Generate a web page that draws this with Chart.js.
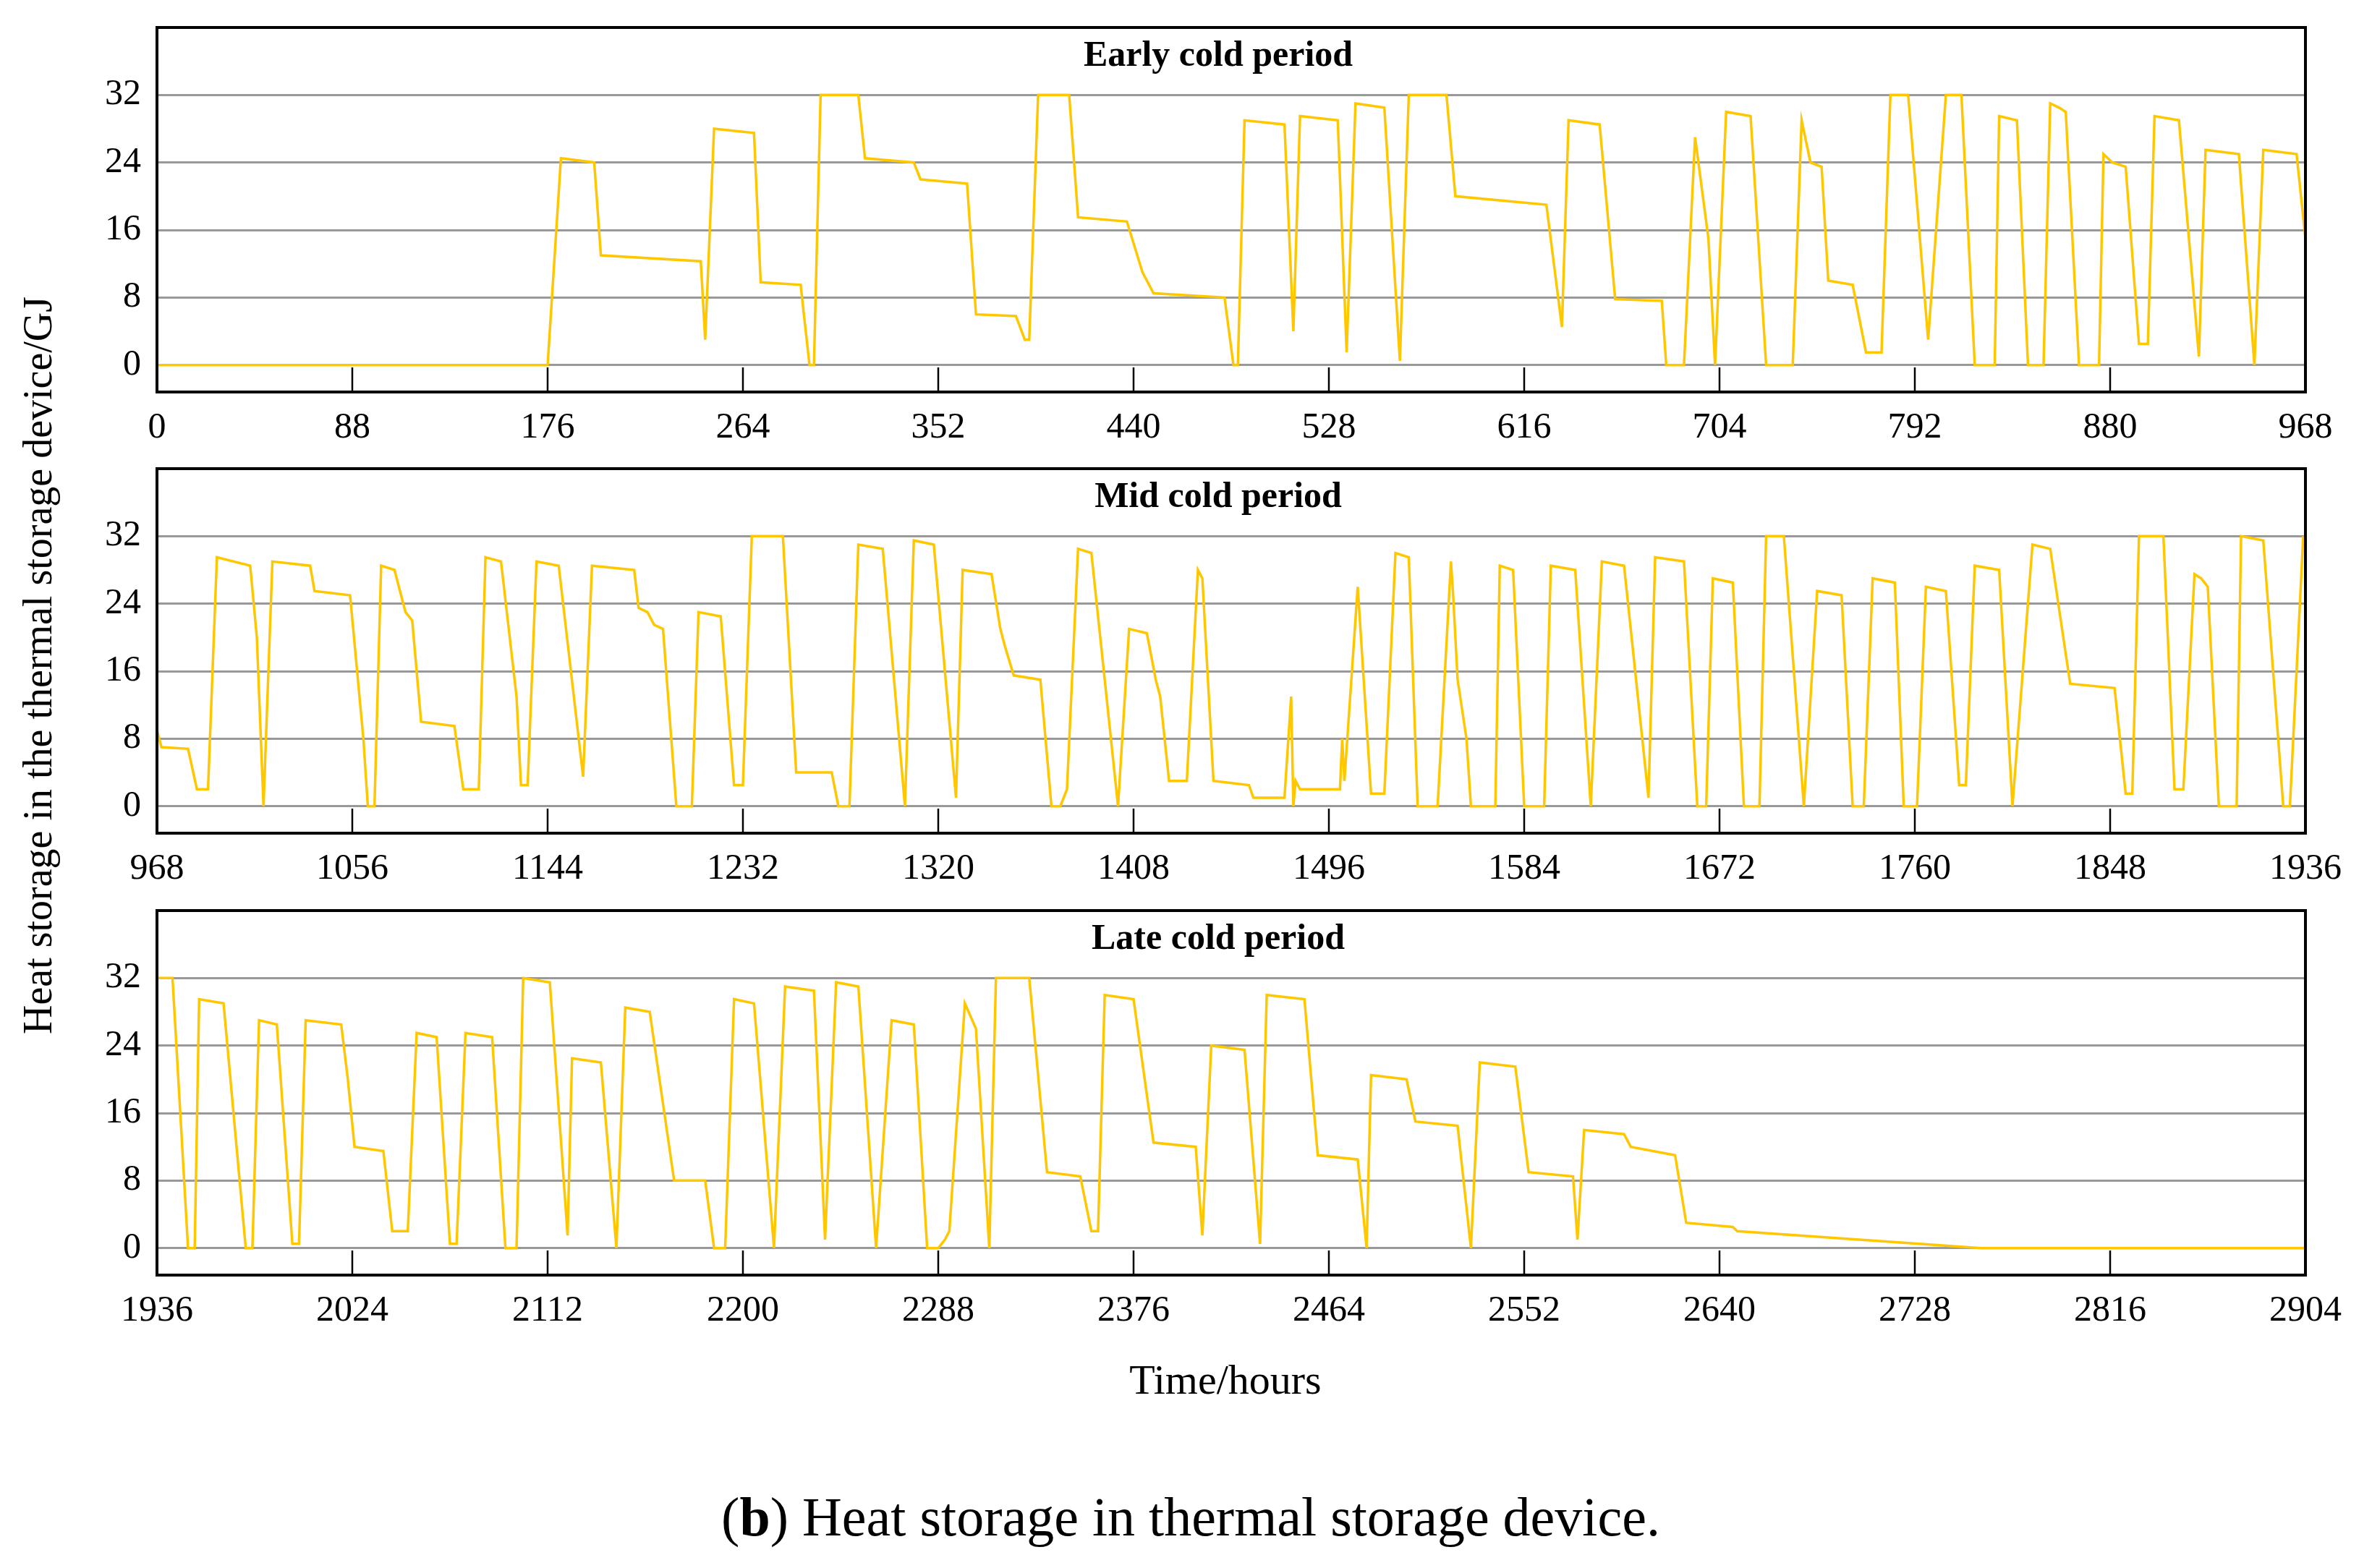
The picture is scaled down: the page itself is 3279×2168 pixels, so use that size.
<!DOCTYPE html>
<html><head><meta charset="utf-8">
<script src="https://cdn.jsdelivr.net/npm/chart.js@4"></script>
<style>
body{margin:0;width:3279px;height:2168px;background:#fff;position:relative;overflow:hidden;font-family:"Liberation Serif",serif;}
canvas{position:absolute;left:0;}
.t{position:absolute;color:#000;white-space:nowrap;}
</style></head><body>
<canvas id="c1" width="3279" height="638" style="top:-14px"></canvas>
<canvas id="c2" width="3279" height="638" style="top:596px"></canvas>
<canvas id="c3" width="3279" height="638" style="top:1207px"></canvas>
<div class="t" id="ylab" style="left:52px;top:920px;font-size:56px;transform:translate(-50%,-50%) rotate(-90deg);">Heat storage in the thermal storage device/GJ</div>
<div class="t" style="left:1694px;top:1907px;font-size:58px;transform:translate(-50%,-50%);">Time/hours</div>
<div class="t" style="left:1646px;top:2097px;font-size:76px;transform:translate(-50%,-50%);">(<b>b</b>) Heat storage in thermal storage device.</div>
<script>
const titles = ["Early cold period","Mid cold period","Late cold period"];
const yTicks = [0,8,16,24,32];
const earlyHours = [0,176,182,197,200,245,247,251,269,272,290,294,296,299,316,319,341,344,365,369,387,391,393,397,411,415,437,444,446,449,481,485,487,490,508,512,515,532,536,540,553,560,564,581,585,626,633,636,650,657,678,680,688,693,699,702,707,718,725,737,741,745,750,753,764,770,777,781,789,798,806,813,819,828,830,838,843,850,853,857,860,866,875,877,881,887,893,897,900,911,920,923,938,945,949,964,968];
const earlyValues = [0,0,24.5,24,13,12.3,3,28,27.5,9.8,9.5,0,0,32,32,24.5,24,22,21.5,6,5.8,3,3,32,32,17.5,17,11,10,8.5,8,0,0,29,28.5,4,29.5,29,1.5,31,30.5,0.5,32,32,20,19,4.5,29,28.5,7.8,7.6,0,0,27,15,0,30,29.5,0,0,29,24,23.5,10,9.5,1.5,1.5,32,32,3,32,32,0,0,29.5,29,0,0,31,30.5,30,0,0,25,24,23.5,2.5,2.5,29.5,29,1,25.5,25,0,25.5,25,15];
const midHours = [968,970,982,986,991,995,1010,1013,1016,1020,1037,1039,1055,1061,1063,1066,1069,1075,1080,1083,1087,1102,1106,1113,1116,1123,1130,1132,1135,1139,1149,1160,1164,1183,1185,1189,1192,1196,1202,1209,1212,1222,1228,1232,1236,1250,1256,1272,1275,1280,1284,1295,1305,1309,1318,1328,1331,1344,1348,1350,1354,1366,1371,1375,1378,1383,1389,1401,1406,1414,1418,1420,1424,1432,1437,1439,1444,1460,1462,1476,1479,1480,1481,1483,1501,1502,1503,1509,1515,1521,1526,1532,1536,1545,1551,1552,1554,1558,1560,1571,1573,1579,1584,1593,1596,1607,1614,1619,1629,1640,1643,1656,1662,1666,1669,1678,1683,1690,1693,1701,1710,1716,1727,1732,1737,1741,1751,1755,1761,1765,1774,1780,1783,1787,1798,1804,1813,1821,1830,1850,1855,1858,1861,1872,1877,1881,1886,1889,1892,1897,1905,1907,1917,1926,1929,1935];
const midValues = [9,7,6.8,2,2,29.5,28.5,20,0,29,28.5,25.5,25,8,0,0,28.5,28,23,22,10,9.5,2,2,29.5,29,13,2.5,2.5,29,28.5,3.5,28.5,28,23.5,23,21.5,21,0,0,23,22.5,2.5,2.5,32,32,4,4,0,0,31,30.5,0,31.5,31,1,28,27.5,21,19,15.5,15,0,0,2,30.5,30,0,21,20.5,15,13,3,3,28,27,3,2.5,1,1,13,0,3,2,2,8,3,26,1.5,1.5,30,29.5,0,0,29,25,15,8,0,0,28.5,28,0,0,28.5,28,0,29,28.5,1,29.5,29,0,0,27,26.5,0,0,32,32,0,25.5,25,0,0,27,26.5,0,0,26,25.5,2.5,2.5,28.5,28,0,31,30.5,14.5,14,1.5,1.5,32,32,2,2,27.5,27,26,0,0,32,31.5,0,0,32];
const lateHours = [1936,1943,1950,1953,1955,1966,1976,1979,1982,1990,1997,2000,2003,2019,2022,2025,2038,2042,2049,2053,2062,2068,2071,2075,2087,2093,2098,2101,2113,2121,2123,2136,2143,2147,2158,2169,2183,2187,2192,2196,2205,2214,2219,2232,2237,2242,2252,2260,2267,2277,2283,2288,2291,2293,2300,2305,2311,2314,2329,2337,2352,2357,2360,2363,2376,2385,2404,2407,2411,2426,2433,2436,2453,2459,2477,2481,2483,2499,2503,2522,2528,2532,2548,2554,2574,2576,2579,2597,2600,2620,2625,2646,2648,2758,2904];
const lateValues = [32,32,0,0,29.5,29,0,0,27,26.5,0.5,0.5,27,26.5,20,12,11.5,2,2,25.5,25,0.5,0.5,25.5,25,0,0,32,31.5,1.5,22.5,22,0,28.5,28,8,8,0,0,29.5,29,0,31,30.5,1,31.5,31,0,27,26.5,0,0,1,2,29,26,0,32,32,9,8.5,2,2,30,29.5,12.5,12,1.5,24,23.5,0.5,30,29.5,11,10.5,0,20.5,20,15,14.5,0,22,21.5,9,8.5,1,14,13.5,12,11,3,2.5,2,0,0];

const panels = [[earlyHours,earlyValues,0],[midHours,midValues,968],[lateHours,lateValues,1936]];
const SERIF = '"Liberation Serif", serif';

const deco = {
  id:'deco',
  afterDraw(chart){
    const {ctx, chartArea:a, scales:{x}} = chart;
    ctx.save();
    ctx.strokeStyle='#000'; ctx.lineWidth=2.5;
    x.ticks.forEach(t=>{
      const px = x.getPixelForValue(t.value);
      if(px<=a.left+2||px>=a.right-2) return;
      ctx.beginPath(); ctx.moveTo(px,a.bottom); ctx.lineTo(px,a.bottom-34); ctx.stroke();
    });
    ctx.lineWidth=4;
    ctx.strokeRect(a.left,a.top,a.right-a.left,a.bottom-a.top);
    ctx.fillStyle='#000';
    ctx.font='bold 50px '+SERIF;
    ctx.textAlign='center'; ctx.textBaseline='middle';
    ctx.fillText(chart.options.plugins.panelTitle, (a.left+a.right)/2 - 18, a.top+40);
    ctx.restore();
  }
};

panels.forEach((p,i)=>{
  const [hrs,vals,start]=p;
  new Chart(document.getElementById('c'+(i+1)),{
    type:'line',
    data:{datasets:[{data:hrs.map((h,k)=>({x:h,y:vals[k]})),borderColor:'#FFC700',borderWidth:3.5,pointRadius:0,tension:0,fill:false}]},
    options:{
      responsive:false,animation:false,devicePixelRatio:1,
      layout:{padding:{left:0,right:92,top:4,bottom:0}},
      plugins:{legend:{display:false},tooltip:{enabled:false},panelTitle:titles[i]},
      scales:{
        x:{type:'linear',min:start,max:start+968,
          afterBuildTicks(s){const t=[];for(let v=start;v<=start+968;v+=88)t.push({value:v});s.ticks=t;},
          afterFit(s){s.height=82;},
          grid:{display:false},border:{display:false},
          ticks:{color:'#000',font:{family:SERIF,size:50},padding:12,maxRotation:0,autoSkip:false,callback:v=>String(v)}},
        y:{min:-3.2,max:40,
          afterBuildTicks(s){s.ticks=yTicks.map(v=>({value:v}));},
          afterFit(s){s.width=217;},
          grid:{color:'#999',lineWidth:3,drawTicks:false},border:{display:false},
          ticks:{color:'#000',font:{family:SERIF,size:50},padding:22}}
      }
    },
    plugins:[deco]
  });
});
</script></body></html>
